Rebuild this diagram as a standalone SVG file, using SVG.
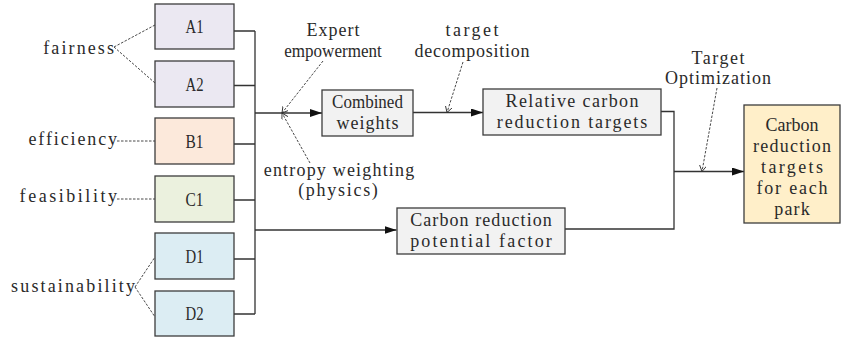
<svg xmlns="http://www.w3.org/2000/svg" width="842" height="341" viewBox="0 0 842 341">
  <style>
    text { font-family: "Liberation Serif", "DejaVu Serif", serif; font-size: 18px; fill: #2a2a2a; }
    .mid { text-anchor: middle; }
    .end { text-anchor: end; }
    .box { stroke: #3c3c3c; stroke-width: 1.3; }
    .fa { fill: #ebe8f2; }
    .ef { fill: #fce9db; }
    .fe { fill: #ebf1de; }
    .su { fill: #dcedf3; }
    .gr { fill: #f2f2f2; }
    .fin { fill: #ffefc9; }
    .wire { fill: none; stroke: #333; stroke-width: 1.3; }
    .dash { fill: none; stroke: #333; stroke-width: 0.9; stroke-dasharray: 2.5 1.5; }
  </style>
  <defs>
    <marker id="solid" markerUnits="userSpaceOnUse" markerWidth="13" markerHeight="9" refX="12" refY="4" orient="auto">
      <path d="M0,0 L12,4 L0,8 Z" fill="#111"/>
    </marker>
    <marker id="open" markerUnits="userSpaceOnUse" markerWidth="8" markerHeight="8" refX="6" refY="3.5" orient="auto">
      <path d="M0,0 L6,3.5 L0,7" fill="none" stroke="#333" stroke-width="0.9"/>
    </marker>
  </defs>

  <!-- connectors -->
  <g id="connectors">
    <!-- indicator boxes to the bus -->
    <path class="wire" d="M234,31 H255 M234,85.5 H255 M234,144 H255 M234,200 H255 M234,259 H255 M234,314 H255 M255,31 V314"/>
    <path class="wire" d="M255,113 H322" marker-end="url(#solid)"/>
    <path class="wire" d="M255,230 H396.5" marker-end="url(#solid)"/>
    <path class="wire" d="M413,112.5 H483" marker-end="url(#solid)"/>
    <path class="wire" d="M661,111.5 H674 V229 H565"/>
    <path class="wire" d="M674,171.5 H744" marker-end="url(#solid)"/>
    <!-- dimension labels to indicators -->
    <path class="dash" d="M114,47 L155,25 M114,47 L155,83"/>
    <path class="dash" d="M117,141 H155"/>
    <path class="dash" d="M117,199 H155"/>
    <path class="dash" d="M135,287 L155,257 M135,287 L155,317"/>
    <!-- method annotations -->
    <path class="dash" d="M323,61 L282,113" marker-end="url(#open)"/>
    <path class="dash" d="M310,163 L282,113" marker-end="url(#open)"/>
    <path class="dash" d="M463,62 L447,112.5" marker-end="url(#open)"/>
    <path class="dash" d="M717,88 L702,171.5" marker-end="url(#open)"/>
  </g>

  <!-- dimension labels -->
  <g id="fairness"><text class="end" x="114" y="54" textLength="70.8" lengthAdjust="spacing">fairness</text></g>
  <g id="efficiency"><text class="end" x="117" y="145" textLength="88.5" lengthAdjust="spacing">efficiency</text></g>
  <g id="feasibility"><text class="end" x="117" y="202" textLength="97.4" lengthAdjust="spacing">feasibility</text></g>
  <g id="sustainability"><text class="end" x="135" y="292" textLength="123.9" lengthAdjust="spacing">sustainability</text></g>

  <!-- indicator boxes -->
  <g id="A1"><rect class="box fa" x="155" y="4" width="79" height="45"/><text class="mid" x="194.5" y="33" textLength="18" lengthAdjust="spacingAndGlyphs">A1</text></g>
  <g id="A2"><rect class="box fa" x="155" y="61" width="79" height="46"/><text class="mid" x="194.5" y="90.5" textLength="18" lengthAdjust="spacingAndGlyphs">A2</text></g>
  <g id="B1"><rect class="box ef" x="155" y="118" width="79" height="46"/><text class="mid" x="194.5" y="147.5" textLength="18" lengthAdjust="spacingAndGlyphs">B1</text></g>
  <g id="C1"><rect class="box fe" x="155" y="176" width="79" height="46"/><text class="mid" x="194.5" y="205.5" textLength="18" lengthAdjust="spacingAndGlyphs">C1</text></g>
  <g id="D1"><rect class="box su" x="155" y="233" width="79" height="46"/><text class="mid" x="194.5" y="262.5" textLength="18" lengthAdjust="spacingAndGlyphs">D1</text></g>
  <g id="D2"><rect class="box su" x="155" y="291" width="79" height="45"/><text class="mid" x="194.5" y="320" textLength="18" lengthAdjust="spacingAndGlyphs">D2</text></g>

  <!-- annotations -->
  <g id="expert">
    <text class="mid" x="333" y="36" textLength="53.1" lengthAdjust="spacing">Expert</text>
    <text class="mid" x="333" y="57" textLength="97.4" lengthAdjust="spacingAndGlyphs">empowerment</text>
  </g>
  <g id="entropy">
    <text class="mid" x="339" y="176" textLength="150.5" lengthAdjust="spacing">entropy weighting</text>
    <text class="mid" x="338" y="196" textLength="79.7" lengthAdjust="spacing">(physics)</text>
  </g>
  <g id="decomposition">
    <text class="mid" x="472" y="36" textLength="53.1" lengthAdjust="spacing">target</text>
    <text class="mid" x="472" y="57" textLength="115" lengthAdjust="spacing">decomposition</text>
  </g>
  <g id="optimization">
    <text class="mid" x="718" y="64" textLength="53.1" lengthAdjust="spacing">Target</text>
    <text class="mid" x="718" y="84" textLength="106.2" lengthAdjust="spacing">Optimization</text>
  </g>

  <!-- process boxes -->
  <g id="combined">
    <rect class="box gr" x="322" y="90" width="91" height="46"/>
    <text class="mid" x="367.5" y="108" textLength="70.8" lengthAdjust="spacingAndGlyphs">Combined</text>
    <text class="mid" x="367.5" y="129" textLength="62" lengthAdjust="spacing">weights</text>
  </g>
  <g id="relative">
    <rect class="box gr" x="483" y="89" width="178" height="46"/>
    <text class="mid" x="572" y="107" textLength="132.8" lengthAdjust="spacing">Relative carbon</text>
    <text class="mid" x="572" y="128" textLength="150.5" lengthAdjust="spacing">reduction targets</text>
  </g>
  <g id="potential">
    <rect class="box gr" x="397" y="208" width="168" height="46"/>
    <text class="mid" x="481" y="226" textLength="141.6" lengthAdjust="spacing">Carbon reduction</text>
    <text class="mid" x="481" y="247" textLength="141.6" lengthAdjust="spacing">potential factor</text>
  </g>
  <g id="park-targets">
    <rect class="box fin" x="744" y="105" width="96" height="118"/>
    <text class="mid" x="792" y="131" textLength="53.1" lengthAdjust="spacing">Carbon</text>
    <text class="mid" x="792" y="152" textLength="78" lengthAdjust="spacing">reduction</text>
    <text class="mid" x="792" y="173" textLength="62" lengthAdjust="spacing">targets</text>
    <text class="mid" x="792" y="194" textLength="70.8" lengthAdjust="spacing">for each</text>
    <text class="mid" x="792" y="215" textLength="35.4" lengthAdjust="spacing">park</text>
  </g>
</svg>
